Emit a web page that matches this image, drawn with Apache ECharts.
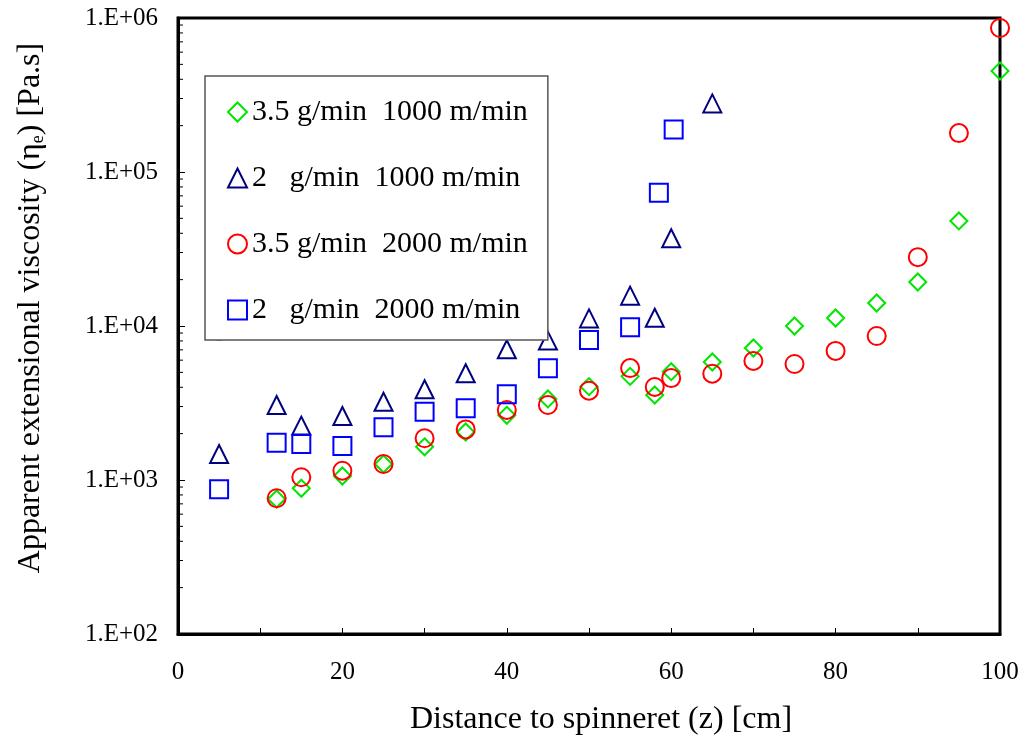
<!DOCTYPE html>
<html>
<head>
<meta charset="utf-8">
<script src="https://cdn.jsdelivr.net/npm/echarts@6/dist/echarts.min.js"></script>
<style>
html,body{margin:0;padding:0;background:#fff;}
#chart{width:1025px;height:746px;}
</style>
</head>
<body>
<div id="chart"></div>
<script>
// ---- data ----
const seriesNames = ['3.5 g/min  1000 m/min', '2   g/min  1000 m/min', '3.5 g/min  2000 m/min', '2   g/min  2000 m/min'];

const xGreen = [12, 15, 20, 25, 30, 35, 40, 45, 50, 55, 58, 60, 65, 70, 75, 80, 85, 90, 95, 100];
const yGreen = [753, 884, 1062, 1270, 1643, 2050, 2630, 3360, 4040, 4710, 3565, 5050, 5835, 7195, 10000, 11270, 14100, 19300, 48100, 453000];

const xNavy = [5, 12, 15, 20, 25, 30, 35, 40, 45, 50, 55, 58, 60, 65];
const yNavy = [1476, 3070, 2255, 2606, 3220, 3880, 4930, 7060, 8040, 11200, 15740, 11320, 37100, 279000];

const xRed = [5, 12, 15, 20, 25, 30, 35, 40, 45, 50, 55, 58, 60, 65, 70, 75, 80, 85, 90, 95, 100];
const yRed = [9300, 761, 1042, 1149, 1270, 1866, 2130, 2850, 3070, 3800, 5330, 4020, 4590, 4900, 5930, 5665, 6890, 8610, 28000, 179000, 861000];

const xBlue = [5, 12, 15, 20, 25, 30, 35, 40, 45, 50, 55, 58.5, 60.3];
const yBlue = [871, 1746, 1714, 1664, 2199, 2778, 2920, 3610, 5310, 8110, 9820, 73400, 189000];

const xTickLabels = [0, 20, 40, 60, 80, 100];
const yDecades = [100, 1000, 10000, 100000, 1000000];
const minorMultipliers = [2, 3, 4, 5, 6, 7, 8, 9];

const xTitle = 'Distance to spinneret (z) [cm]';
const yTitle = 'Apparent extensional viscosity (η{sub|e}) [Pa.s]';

// ---- build ----
const zip = (xs, ys) => xs.map((x, i) => [x, ys[i]]);
const FONT = '"Liberation Serif", "Times New Roman", serif';

const minorTicks = [];
for (let d = 0; d < yDecades.length - 1; d++) {
  minorMultipliers.forEach(m => minorTicks.push([0, yDecades[d] * m]));
}

function scatter(name, data, symbol, size, color) {
  return {
    name: name, type: 'scatter', data: data, symbol: symbol, symbolSize: size,
    clip: false, z: 3,
    itemStyle: {color: 'transparent', borderColor: color, borderWidth: 2, opacity: 1},
    emphasis: {disabled: true}
  };
}

const chart = echarts.init(document.getElementById('chart'), null, {renderer: 'canvas'});
chart.setOption({
  animation: false,
  backgroundColor: '#fff',
  textStyle: {fontFamily: FONT, color: '#000'},
  grid: {left: 178, right: 25, top: 18, bottom: 112, show: true, borderColor: '#000', borderWidth: 3, backgroundColor: 'transparent'},
  xAxis: {
    type: 'value', min: 0, max: 100, interval: 10,
    name: xTitle, nameLocation: 'middle', nameGap: 70,
    nameTextStyle: {fontFamily: FONT, fontSize: 32, color: '#000', padding: [0, 0, 0, 24]},
    axisLine: {show: true, lineStyle: {color: '#000', width: 3}},
    axisTick: {show: true, inside: true, length: 6, lineStyle: {color: '#000', width: 1}},
    axisLabel: {
      fontFamily: FONT, fontSize: 25, color: '#000', margin: 26,
      formatter: v => (xTickLabels.indexOf(v) >= 0 ? String(v) : '')
    },
    splitLine: {show: false}
  },
  yAxis: {
    type: 'log', logBase: 10, min: 100, max: 1000000,
    axisLine: {show: true, lineStyle: {color: '#000', width: 3}},
    axisTick: {show: true, inside: true, length: 7, lineStyle: {color: '#000', width: 1}},
    axisLabel: {
      fontFamily: FONT, fontSize: 25, color: '#000', margin: 20,
      formatter: v => '1.E+' + String(Math.round(Math.log10(v))).padStart(2, '0')
    },
    splitLine: {show: false}
  },
  graphic: [{
    type: 'text', x: 31, y: 308, rotation: Math.PI / 2, z: 10,
    style: {
      text: yTitle, fontFamily: FONT, fontSize: 32, fill: '#000',
      align: 'center', verticalAlign: 'middle',
      rich: {sub: {fontFamily: FONT, fontSize: 18, fill: '#000', verticalAlign: 'bottom', padding: [12, 0, 0, 0]}}
    }
  }],
  legend: {
    orient: 'vertical', left: 205, top: 76,
    padding: [21, 20, 15, 22],
    itemGap: 36, itemWidth: 19, itemHeight: 19,
    backgroundColor: '#fff', borderColor: '#555', borderWidth: 1.5,
    textStyle: {fontFamily: FONT, fontSize: 30, color: '#000'},
    data: seriesNames,
    z: 10
  },
  series: [
    scatter(seriesNames[0], zip(xGreen, yGreen), 'diamond', 17, '#00e600'),
    scatter(seriesNames[1], zip(xNavy, yNavy), 'triangle', 18, '#000080'),
    scatter(seriesNames[2], zip(xRed, yRed), 'circle', 18, '#ff0000'),
    scatter(seriesNames[3], zip(xBlue, yBlue), 'rect', 18, '#0000ff'),
    {
      type: 'custom', name: 'minorTicks', silent: true, clip: false, z: 2,
      data: minorTicks,
      renderItem: function (params, api) {
        const p = api.coord([api.value(0), api.value(1)]);
        return {type: 'line', shape: {x1: p[0], y1: p[1], x2: p[0] + 5, y2: p[1]}, style: {stroke: '#000', lineWidth: 1}};
      }
    }
  ]
});
</script>
</body>
</html>
